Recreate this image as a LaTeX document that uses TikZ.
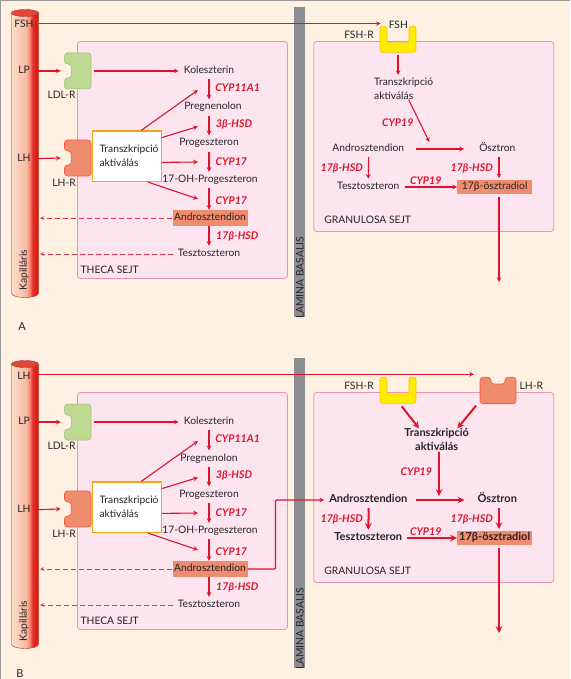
\documentclass[tikz,border=0pt]{standalone}
\usepackage{fontspec}
\setmainfont{Lato}
\usepackage{tikz}
\usetikzlibrary{positioning}
\definecolor{paper}{RGB}{254, 241, 226}
\definecolor{cellfill}{RGB}{252, 229, 239}
\definecolor{celledge}{RGB}{238, 145, 178}
\definecolor{hormred}{RGB}{222, 20, 45}
\definecolor{lamina}{RGB}{140, 142, 146}
\definecolor{salmon}{RGB}{240, 140, 110}
\definecolor{recgreen}{RGB}{190, 217, 145}
\definecolor{recyellow}{RGB}{255, 236, 0}
\definecolor{boxorange}{RGB}{247, 163, 20}
\definecolor{inktext}{RGB}{40, 35, 40}
\definecolor{vesseltop}{RGB}{226, 70, 55}
\definecolor{vesseledge}{RGB}{165, 50, 35}
\pgfdeclarehorizontalshading{vessel}{100bp}{
  rgb(0bp)=(.99,.87,.80); rgb(25bp)=(.99,.87,.80); rgb(53bp)=(.97,.72,.63); rgb(59bp)=(.96,.50,.42);
  rgb(64bp)=(.90,.19,.16); rgb(70bp)=(.87,.13,.09); rgb(75bp)=(.76,.11,.09); rgb(100bp)=(.76,.11,.09)}
\newcommand{\plainfont}{\fontsize{10.3}{12}\selectfont}
\newcommand{\heavyfont}{\fontsize{11}{12}\selectfont\bfseries}
\tikzset{
  every node/.style={text=inktext, font=\plainfont},
  arr/.style={-stealth, hormred, line width=1.1pt},
  thickarr/.style={-stealth, hormred, line width=2pt},
  dasharr/.style={-stealth, hormred!85!paper, line width=0.7pt, dash pattern=on 5pt off 3pt},
  metab/.style={inner xsep=5pt, inner ysep=3.5pt, text height=7pt, text depth=2pt},
  hilite/.style={metab, fill=salmon, inner xsep=1pt, minimum width=75pt},
  enzyme/.style={text=hormred, font=\fontsize{10.6}{12}\selectfont\bfseries\itshape, inner sep=0pt},
  celllabel/.style={inner sep=0pt},
  cell/.style={draw=celledge, fill=cellfill, rounded corners=3pt, line width=0.8pt, minimum height=237pt},
  notchleft/.pic={
    \path[pic actions, rounded corners=3pt] (-13.25,-18) -- (13.25,-18) -- (13.25,18) -- (-13.25,18)
      -- (-13.25,7) -- (-6.5,7) -- (-6.5,-7) -- (-13.25,-7) -- cycle;
    \coordinate (-out) at (-17,0);
    \coordinate (-in) at (16,0);
  },
  ushape/.pic={
    \path[pic actions, rounded corners=2.5pt] (-18,-13) -- (-11,-13) -- (-11,3.5) -- (11,3.5) -- (11,-13)
      -- (18,-13) -- (18,13) -- (-18,13) -- cycle;
    \coordinate (-foot) at (0,16);
    \coordinate (-slant) at (3.7,16);
  },
}
\begin{document}
\begin{tikzpicture}[x=1pt, y=-1pt]
  \useasboundingbox (0,0) rectangle (570,679);
  \fill[paper] (0,0) rectangle (570,679);
  \draw[black!40, line width=0.8pt] (0,679) -- (0,0) -- (570,0);

  \foreach \p/\dy/\pregx in {a/0/213, b/351/209} {
    \begin{scope}[yshift=-\dy pt]
      % vessel
      \path[shading=vessel, draw=vesseledge, line width=0.4pt] (11.5,13) -- (11.5,293)
        .. controls (11.5,299) and (38.5,299) .. (38.5,293) -- (38.5,13) -- cycle;
      \path[fill=vesseltop, draw=vesseledge, line width=0.4pt] (25,13) ellipse [x radius=13.5, y radius=3.5];
      % cells
      \node[cell, minimum width=210pt] (theca\p) at (182.5,160) {};
      \node[cell, minimum width=240pt, minimum height=190pt] (gran\p) at (433.75,136.5) {};
      \node[celllabel] (thecalab\p) at (109.7,270) {THECA SEJT};
      \node[celllabel] (granlab\p) at (367.7,219.7) {GRANULOSA SEJT};
      \node[fill=lamina, minimum width=11pt, minimum height=310pt, inner sep=0pt] (bar\p) at (299.75,162) {};
      \node[rotate=90, celllabel] (barlab\p) at (300,278) {LAMINA BASALIS};
      \node[rotate=90, celllabel] (kap\p) at (24,270) {Kapilláris};

      % left side
      \node[metab] (lp\p) at (24,71) {LP};
      \node[metab] (lh\p) at (24,159) {LH};
      \pic[fill=recgreen, draw=recgreen!85!black, line width=0.5pt] (ldl\p) at (77.75,71) {notchleft};
      \pic[fill=salmon, draw=red!40!salmon, line width=0.6pt] (lhrec\p) at (77.75,158) {notchleft};
      \node[celllabel] (ldllab\p) at (61.5,95) {LDL-R};
      \node[celllabel] (lhlab\p) at (64,183) {LH-R};
      \node[draw=boxorange, fill=white, line width=1.2pt, minimum width=69pt, minimum height=50.5pt, text width=55pt, align=left, inner sep=0pt, font=\fontsize{10.3}{14}\selectfont] (tra\p) at (127,156.2) {Transzkripció\\aktiválás};

      % steps
      \node[metab] (kol\p) at (209,71) {Koleszterin};
      \node[metab] (preg\p) at (\pregx,107.5) {Pregnenolon};
      \node[metab] (prog\p) at (209,143.5) {Progeszteron};
      \node[metab] (oh\p) at (210,180) {17-OH-Progeszteron};
      \node[hilite] (andr\p) at (210,218) {Androsztendion};
      \node[metab] (tes\p) at (209,254) {Tesztoszteron};
      \node[enzyme] (en1\p) at (237.7,88) {CYP11A1};
      \node[enzyme] (en2\p) at (234,125) {3β-HSD};
      \node[enzyme] (en3\p) at (231.4,161.7) {CYP17};
      \node[enzyme] (en4\p) at (231.4,200.7) {CYP17};
      \node[enzyme] (en5\p) at (237.3,236.7) {17β-HSD};
      \coordinate (to1\p) at (198,90);
      \coordinate (to2\p) at (198,126.5);
      \coordinate (to3\p) at (198,162);
      \coordinate (to4\p) at (198,199);
      \coordinate (bloodandr\p) at (40,218);
      \coordinate (bloodtes\p) at (40,254);

      \draw[arr] (lp\p) -- (ldl\p-out);
      \draw[arr] (lh\p) -- (lhrec\p-out);
      \draw[arr] (ldl\p-in) -- (kol\p);
      \draw[arr] (kol\p.south) -- (kol\p.south |- preg\p.north);
      \draw[arr] (kol\p.south |- preg\p.south) -- (prog\p.north);
      \draw[arr] (prog\p.south) -- (prog\p.south |- oh\p.north);
      \draw[arr] (prog\p.south |- oh\p.south) -- (prog\p.south |- andr\p.north);
      \draw[arr] (prog\p.south |- andr\p.south) -- (tes\p.north);
      \draw[arr] (tra\p.61) -- (to1\p);
      \draw[arr] (tra\p.28) -- (to2\p);
      \draw[arr] (tra\p.-10) -- (to3\p);
      \draw[arr] (tra\p.-51) -- (to4\p);
      \draw[dasharr] (andr\p) -- (bloodandr\p);
      \draw[dasharr] (tes\p) -- (bloodtes\p);
    \end{scope}
  }

  % panel A, granulosa
  \node[metab] (fsha) at (24,25) {FSH};
  \node[celllabel] (fshin) at (398.3,25) {FSH};
  \node[celllabel] (fshlaba) at (359,34.5) {FSH-R};
  \pic[fill=recyellow, draw=boxorange!60!recyellow, line width=0.6pt] (fshreca) at (398,39.3) {ushape};
  \node[celllabel, align=left, font=\fontsize{10.3}{14}\selectfont] (gta) at (403.7,88.5) {Transzkripció\\aktiválás};
  \node[enzyme] (gcypa) at (397.7,122.3) {CYP19};
  \node[metab] (gana) at (368.3,149) {Androsztendion};
  \node[metab] (gosa) at (497.3,149) {Ösztron};
  \node[enzyme] (ghsda) at (341.7,169) {17β-HSD};
  \node[enzyme] (ghsdb) at (471.7,169) {17β-HSD};
  \node[metab] (gtea) at (368.3,187) {Tesztoszteron};
  \node[enzyme] (gcypb) at (425.7,180.7) {CYP19};
  \node[hilite, inner ysep=2.5pt] (gesa) at (494.7,187) {17β-ösztradiol};
  \coordinate (fshnext) at (398,75);
  \coordinate (fshtip) at (380.7,23.5);
  \coordinate (crossa) at (429.3,142);
  \coordinate (outa) at (499,282);

  \draw[arr] (fsha.east |- fshtip) -- (fshtip);
  \draw[arr] (fshreca-foot) -- (fshnext);
  \draw[arr] (gta.-66) -- (crossa);
  \draw[arr, shorten >=10pt, shorten <=7pt] (gana) -- (gosa);
  \draw[arr] (gana.south) ++(0.4,0) -- (gana.south |- gtea.north);
  \draw[arr] (gosa.south) ++(1.7,0) -- ++(0,21);
  \draw[arr] (gtea) -- (gesa);
  \draw[arr, shorten <=3pt] (gesa.south) ++(4.3,0) -- (outa);

  % panel B, granulosa
  \node[metab] (lhtop) at (24,376.7) {LH};
  \node[celllabel] (fshlabb) at (359,385.7) {FSH-R};
  \node[celllabel] (lhlabb) at (531.3,385.7) {LH-R};
  \pic[fill=recyellow, draw=boxorange!60!recyellow, line width=0.6pt] (fshrecb) at (398,390.3) {ushape};
  \pic[fill=salmon, draw=red!40!salmon, line width=0.6pt, rotate=-90] (lhrecb) at (498,390.5) {notchleft};
  \node[font=\fontsize{11}{14.3}\selectfont\bfseries, align=center, inner sep=0pt] (gtb) at (436.7,439.8) {Transzkripció\\aktiválás};
  \node[enzyme] (gcypc) at (416.3,471.3) {CYP19};
  \node[metab, font=\heavyfont] (ganb) at (368.3,500) {Androsztendion};
  \node[metab, font=\heavyfont] (gosb) at (497.3,500) {Ösztron};
  \node[enzyme] (ghsdc) at (341.7,520) {17β-HSD};
  \node[enzyme] (ghsdd) at (471.7,520) {17β-HSD};
  \node[metab, font=\heavyfont] (gteb) at (368.3,538) {Tesztoszteron};
  \node[enzyme] (gcypd) at (425.7,532) {CYP19};
  \node[hilite, font=\heavyfont, inner ysep=2.5pt] (gesb) at (494.7,538) {17β-ösztradiol};
  \coordinate (lhtip) at (474,374.3);
  \coordinate (lhslant) at (476,405.7);
  \coordinate (crossb) at (439,496);
  \coordinate (outb) at (499,633);
  \coordinate (elbowa) at (275.5,569);
  \coordinate (elbowb) at (275.5,500);

  \draw[arr] (lhtop.east |- lhtip) -- (lhtip);
  \draw[thickarr] (fshrecb-slant) -- (gtb.147);
  \draw[thickarr] (lhslant) -- (gtb.29);
  \draw[thickarr, shorten <=1pt] (gtb.south) ++(2.3,0) -- (crossb);
  \draw[thickarr, shorten >=8pt, shorten <=4pt] (ganb) -- (gosb);
  \draw[thickarr] (ganb.south) ++(0.4,0) -- (ganb.south |- gteb.north);
  \draw[thickarr] (gosb.south) ++(1.7,0) -- ++(0,21);
  \draw[thickarr] (gteb) -- (gesb);
  \draw[thickarr, shorten <=3pt] (gesb.south) ++(4.3,0) -- (outb);
  \draw[arr, rounded corners=1pt] (andrb) -- (elbowa) -- (elbowb) -- (ganb);

  \node[celllabel, font=\fontsize{11}{13}\selectfont] (letta) at (22,327) {A};
  \node[celllabel, font=\fontsize{11}{13}\selectfont] (lettb) at (20,674) {B};
\end{tikzpicture}
\end{document}
